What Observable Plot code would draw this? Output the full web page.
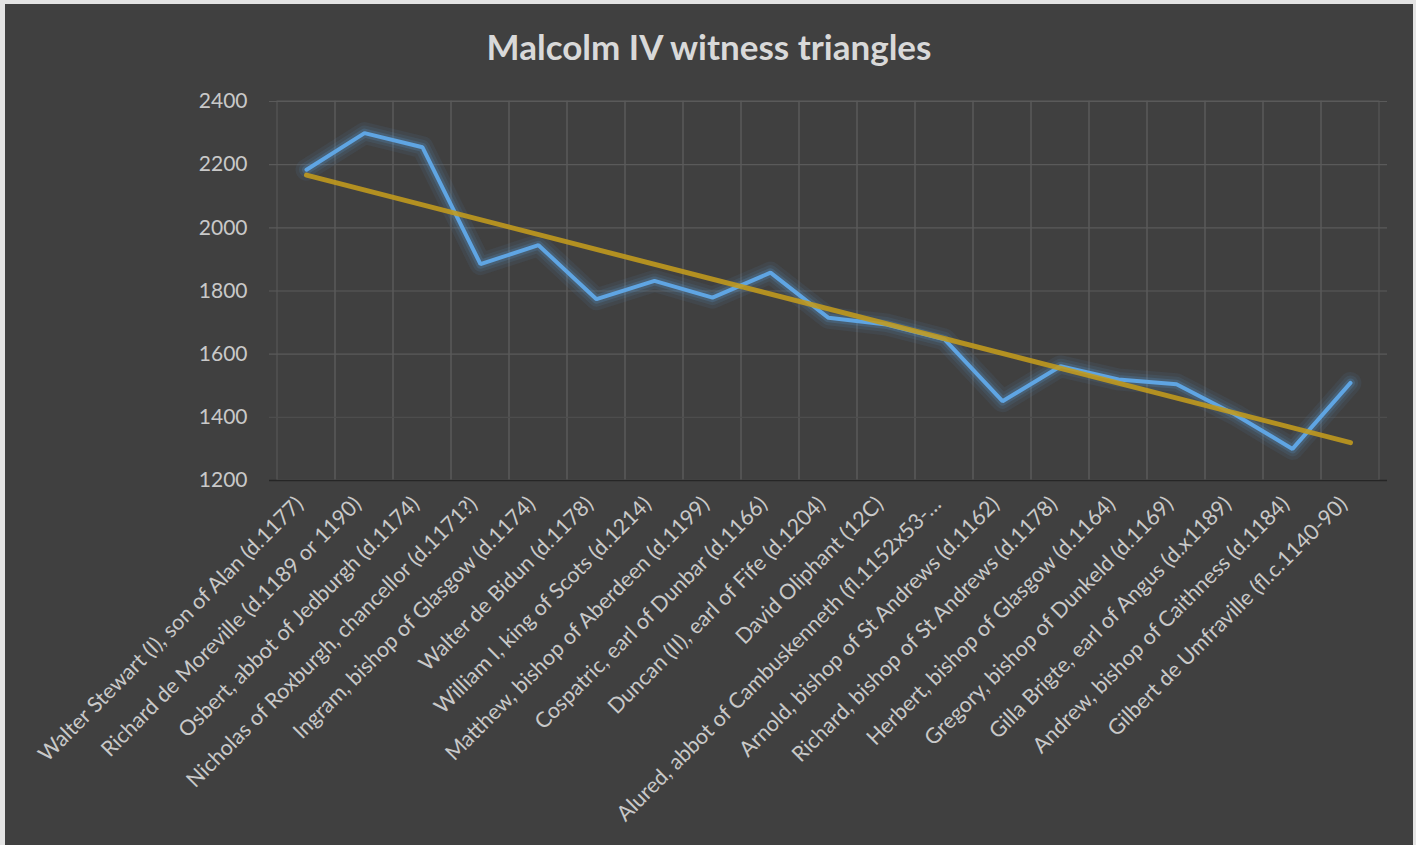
<!DOCTYPE html>
<html>
<head>
<meta charset="utf-8">
<script src="https://cdn.jsdelivr.net/npm/d3@7"></script>
<script src="https://cdn.jsdelivr.net/npm/@observablehq/plot@0.6"></script>
<style>
  html, body { margin: 0; padding: 0; background: #e4e4e4; width: 1416px; height: 845px; overflow: hidden; }
  #panel { position: absolute; left: 5px; top: 4px; width: 1408px; height: 841px; background: #404040; overflow: hidden; }
  #title { height: 80px; line-height: 85px; text-align: center; font-family: Lato, "Open Sans", sans-serif; font-weight: bold; font-size: 35px; color: #d9d9d9; }
  #chart svg { display: block; }
</style>
</head>
<body>
<div id="panel">
  <div id="title">Malcolm IV witness triangles</div>
  <div id="chart"></div>
</div>
<script>
const categories = [
  "Walter Stewart (I), son of Alan (d.1177)",
  "Richard de Moreville (d.1189 or 1190)",
  "Osbert, abbot of Jedburgh (d.1174)",
  "Nicholas of Roxburgh, chancellor (d.1171?)",
  "Ingram, bishop of Glasgow (d.1174)",
  "Walter de Bidun (d.1178)",
  "William I, king of Scots (d.1214)",
  "Matthew, bishop of Aberdeen (d.1199)",
  "Cospatric, earl of Dunbar (d.1166)",
  "Duncan (II), earl of Fife (d.1204)",
  "David Oliphant (12C)",
  "Alured, abbot of Cambuskenneth (fl.1152x53-…",
  "Arnold, bishop of St Andrews (d.1162)",
  "Richard, bishop of St Andrews (d.1178)",
  "Herbert, bishop of Glasgow (d.1164)",
  "Gregory, bishop of Dunkeld (d.1169)",
  "Gilla Brigte, earl of Angus (d.x1189)",
  "Andrew, bishop of Caithness (d.1184)",
  "Gilbert de Umfraville (fl.c.1140-90)"
];
const witnesses = [2184, 2300, 2255, 1885, 1945, 1774, 1832, 1779, 1858, 1715, 1694, 1647, 1451, 1562, 1520, 1505, 1410, 1300, 1509];
const yTicks = [1200, 1400, 1600, 1800, 2000, 2200, 2400];

const rows = categories.map((name, i) => ({name, value: witnesses[i]}));

// Linear trendline (least squares over category index), as Excel does
const n = witnesses.length;
const mx = (n - 1) / 2;
const my = d3.mean(witnesses);
const sxy = d3.sum(witnesses, (v, i) => (i - mx) * (v - my));
const sxx = d3.sum(witnesses, (v, i) => (i - mx) * (i - mx));
const slope = sxy / sxx;
const trend = [0, n - 1].map(i => ({name: categories[i], value: my + slope * (i - mx)}));

const blue = "#5b9bd5";
const labelColor = "#c9c9c9";
const chart = Plot.plot({
  width: 1408,
  height: 761,
  marginLeft: 264,
  marginRight: 26,
  marginTop: 17,
  marginBottom: 365,
  style: {background: "transparent", fontFamily: "Lato, 'Open Sans', sans-serif", fontSize: "21px", color: labelColor, overflow: "visible"},
  x: {type: "band", domain: categories, padding: 0, axis: null},
  y: {domain: [1200, 2400], ticks: yTicks, tickFormat: d => String(d), label: null, tickSize: 0, tickPadding: 22},
  marks: [
    Plot.barY(categories, {x: d => d, y1: 1200, y2: 2400, fill: "none", stroke: "#5a5a5a", strokeWidth: 1}),
    Plot.ruleY(yTicks.slice(2), {stroke: "#5a5a5a", strokeWidth: 1.2}),
    Plot.ruleY([1400], {stroke: "#4d4d4d", strokeWidth: 1.2}),
    Plot.ruleY([1200], {stroke: "#262626", strokeWidth: 1.5}),
    Plot.text(categories, {x: d => d, text: d => d, frameAnchor: "bottom", rotate: -45, textAnchor: "end", dx: -2, dy: 25, fill: labelColor, fontSize: 21.5}),
    Plot.line(rows, {x: "name", y: "value", stroke: blue, strokeWidth: 22, strokeOpacity: 0.08, strokeLinejoin: "round"}),
    Plot.line(rows, {x: "name", y: "value", stroke: blue, strokeWidth: 15, strokeOpacity: 0.11, strokeLinejoin: "round"}),
    Plot.line(rows, {x: "name", y: "value", stroke: blue, strokeWidth: 9, strokeOpacity: 0.2, strokeLinejoin: "round"}),
    Plot.line(rows, {x: "name", y: "value", stroke: "#5fa5e3", strokeWidth: 4, strokeLinejoin: "miter"}),
    Plot.line(trend, {x: "name", y: "value", stroke: "#c39b1c", strokeWidth: 5, strokeOpacity: 0.88, strokeLinecap: "round"})
  ]
});
document.getElementById("chart").append(chart);
</script>
</body>
</html>
